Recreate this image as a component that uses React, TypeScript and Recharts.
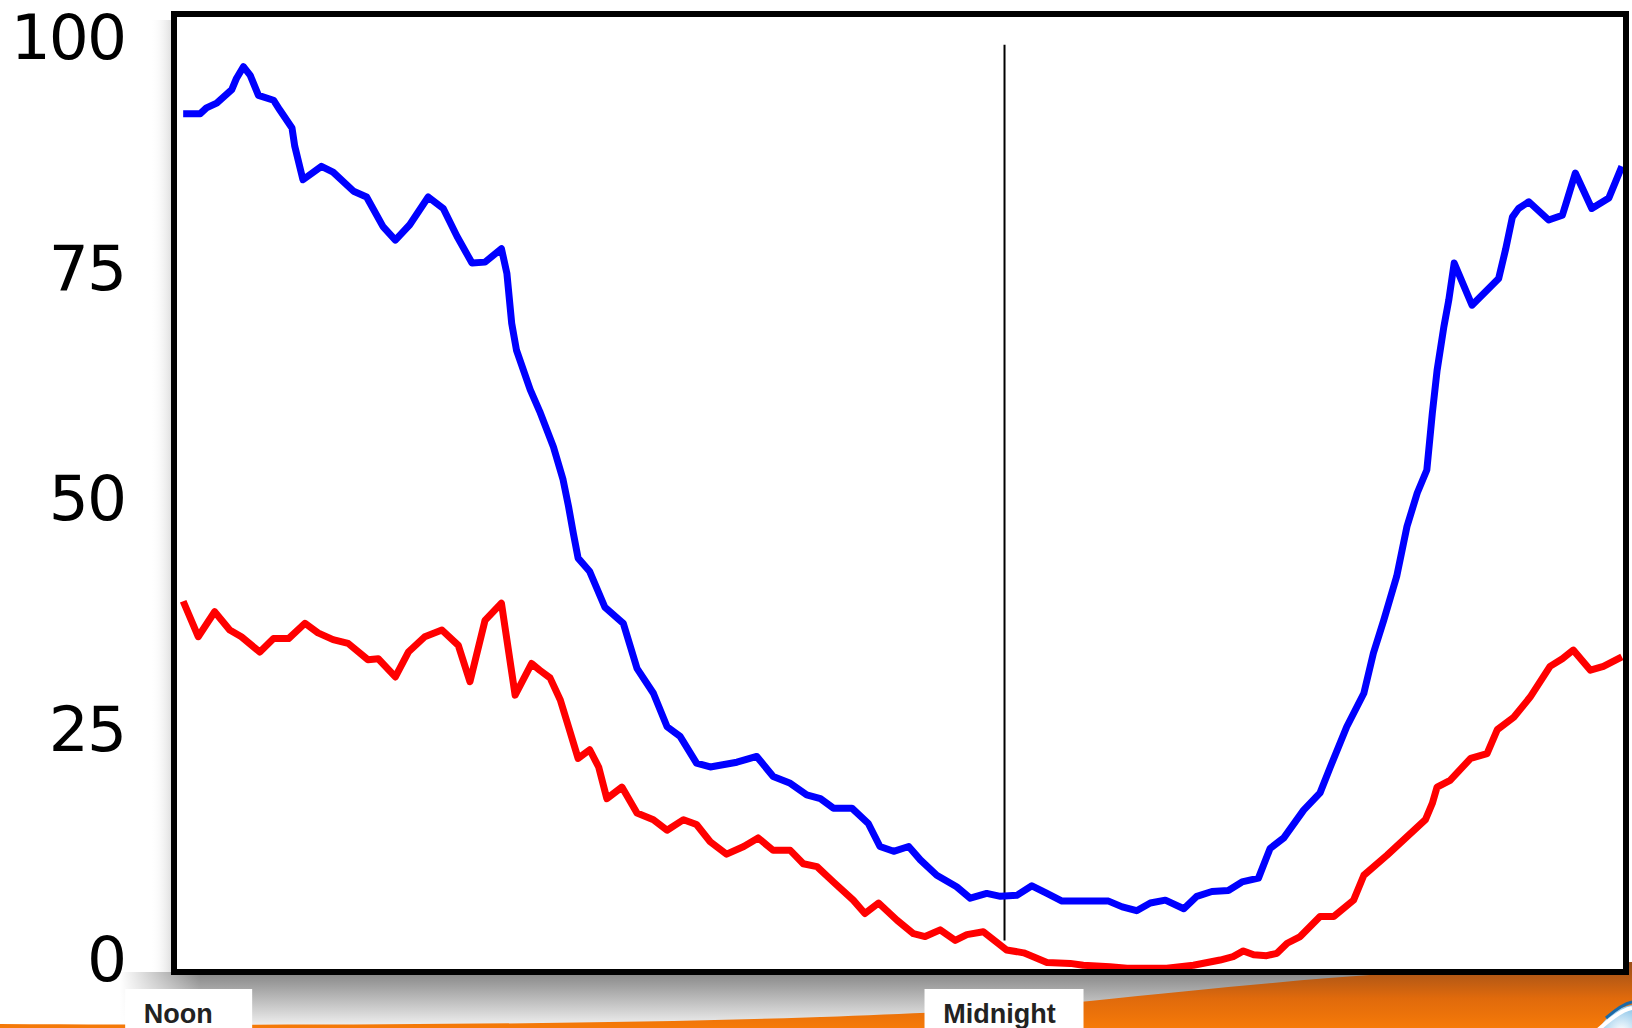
import { LineChart, Line, XAxis, YAxis, CartesianGrid, ReferenceLine } from 'recharts'

// hours after noon
const blueHours = [
  0, 0.25, 0.34, 0.49, 0.71, 0.78, 0.88, 0.98, 1.10, 1.32,
  1.41, 1.59, 1.63, 1.75, 2.02, 2.19, 2.49, 2.68, 2.92, 3.10,
  3.31, 3.58, 3.80, 4.00, 4.22, 4.41, 4.65, 4.73, 4.80, 4.87,
  5.07, 5.21, 5.41, 5.55, 5.63, 5.70, 5.77, 5.94, 6.16, 6.43,
  6.63, 6.87, 7.07, 7.26, 7.50, 7.70, 8.09, 8.38, 8.62, 8.87,
  9.11, 9.31, 9.50, 9.77, 10.01, 10.18, 10.38, 10.60, 10.77, 11.01,
  11.30, 11.50, 11.74, 11.94, 12.18, 12.40, 12.62, 12.84, 13.52, 13.72,
  13.93, 14.13, 14.35, 14.62, 14.81, 15.03, 15.27, 15.47, 15.71, 15.88,
  16.08, 16.37, 16.61, 16.76, 17.00, 17.25, 17.39, 17.54, 17.73, 17.88,
  18.03, 18.17, 18.25, 18.32, 18.42, 18.49, 18.57, 18.83, 19.22, 19.32,
  19.42, 19.51, 19.66, 19.95, 20.15, 20.22, 20.34, 20.58, 20.83, 21.02,
]
const blueValues = [
  89.6, 89.6, 90.2, 90.7, 92.1, 93.3, 94.5, 93.6, 91.5, 91.0,
  90.0, 88.1, 86.2, 82.7, 84.1, 83.5, 81.5, 80.9, 77.8, 76.4,
  78.0, 80.9, 79.7, 76.8, 74.0, 74.1, 75.5, 72.9, 67.7, 64.9,
  60.8, 58.5, 54.8, 51.4, 48.6, 45.8, 43.2, 41.8, 38.1, 36.4,
  31.7, 29.1, 25.6, 24.6, 21.8, 21.4, 21.9, 22.5, 20.4, 19.7,
  18.5, 18.1, 17.1, 17.1, 15.5, 13.1, 12.6, 13.1, 11.7, 10.1,
  8.9, 7.7, 8.2, 7.9, 8.0, 9.0, 8.2, 7.4, 7.4, 6.8,
  6.4, 7.2, 7.5, 6.6, 7.9, 8.4, 8.5, 9.4, 9.8, 12.9,
  14.0, 16.9, 18.7, 21.4, 25.6, 29.1, 33.3, 36.7, 41.3, 46.5,
  50.0, 52.4, 58.3, 62.8, 67.4, 70.1, 74.0, 69.6, 72.4, 75.4,
  78.8, 79.7, 80.4, 78.5, 79.0, 80.6, 83.4, 79.7, 80.8, 84.1,
]

const redHours = [
  0, 0.22, 0.46, 0.68, 0.85, 1.12, 1.32, 1.54, 1.78, 1.97,
  2.19, 2.41, 2.70, 2.85, 3.10, 3.29, 3.53, 3.78, 4.02, 4.19,
  4.41, 4.65, 4.85, 5.09, 5.21, 5.36, 5.51, 5.63, 5.77, 5.94,
  6.07, 6.19, 6.41, 6.63, 6.87, 7.07, 7.31, 7.50, 7.70, 7.94,
  8.19, 8.40, 8.62, 8.87, 9.06, 9.26, 9.50, 9.79, 9.96, 10.16,
  10.43, 10.67, 10.84, 11.06, 11.28, 11.45, 11.69, 12.03, 12.28, 12.42,
  12.62, 12.96, 13.15, 13.54, 13.79, 14.37, 14.76, 15.15, 15.34, 15.49,
  15.64, 15.83, 15.98, 16.13, 16.32, 16.61, 16.81, 17.10, 17.25, 17.59,
  18.15, 18.25, 18.32, 18.51, 18.81, 19.05, 19.20, 19.44, 19.68, 19.97,
  20.15, 20.31, 20.56, 20.75, 21.02,
]
const redValues = [
  38.7, 35.0, 37.6, 35.7, 35.0, 33.4, 34.8, 34.8, 36.4, 35.4,
  34.7, 34.3, 32.6, 32.7, 30.8, 33.4, 35.0, 35.7, 34.1, 30.3,
  36.7, 38.5, 28.9, 32.2, 31.5, 30.7, 28.4, 25.6, 22.3, 23.2,
  21.4, 18.1, 19.3, 16.6, 15.9, 14.8, 15.9, 15.4, 13.6, 12.3,
  13.1, 14.0, 12.7, 12.7, 11.3, 11.0, 9.4, 7.5, 6.1, 7.2,
  5.4, 4.0, 3.7, 4.4, 3.3, 3.9, 4.2, 2.3, 2.0, 1.6,
  1.0, 0.9, 0.7, 0.55, 0.4, 0.4, 0.7, 1.25, 1.6, 2.2,
  1.8, 1.7, 1.95, 3.0, 3.7, 5.8, 5.8, 7.5, 10.1, 12.2,
  15.9, 17.6, 19.3, 20.0, 22.3, 22.8, 25.3, 26.6, 28.7, 31.9,
  32.7, 33.6, 31.5, 31.9, 32.9,
]

const yTicks = [0, 25, 50, 75, 100]
const xTicks = [0, 12]
const xLabels: Record<number, string> = { 0: 'Noon', 12: 'Midnight' }

const blueData = blueHours.map((h, i) => ({ h, v: blueValues[i] }))
const redData = redHours.map((h, i) => ({ h, v: redValues[i] }))

const X_DOMAIN: [number, number] = [-0.134, 21.08]
const frame = { stroke: '#000', strokeWidth: 6, strokeLinecap: 'square' as const }

function YTick({ x, y, payload }: any) {
  const v = payload.value as number
  return (
    <text x={x - 49} y={y + 9 + v * 0.36} textAnchor="end" fontSize={63} letterSpacing={-2}
      fontFamily="DejaVu Sans" fill="#000">{v}</text>
  )
}

function XTick({ x, y, payload }: any) {
  const label = xLabels[payload.value as number]
  const w = label === 'Noon' ? 127 : 159
  const left = label === 'Noon' ? -58 : -80
  return (
    <g>
      <rect x={x + left} y={y + 17} width={w} height={60} fill="#fff" />
      <text x={x - 5} y={y + 51} textAnchor="middle" fontSize={27} fontWeight="bold"
        fontFamily="Liberation Sans, Arial, sans-serif" fill="#222">{label}</text>
    </g>
  )
}

function Backdrop() {
  return (
    <svg width={1632} height={1028} style={{ position: 'absolute', left: 0, top: 0 }}>
      <defs>
        <linearGradient id="shade" x1="0" y1="0" x2="0" y2="1">
          <stop offset="0" stopColor="#858585" />
          <stop offset="1" stopColor="#f4f4f4" />
        </linearGradient>
        <linearGradient id="fadeLeft" x1="0" y1="0" x2="1" y2="0">
          <stop offset="0" stopColor="#fff" stopOpacity="1" />
          <stop offset="1" stopColor="#fff" stopOpacity="0" />
        </linearGradient>
        <linearGradient id="sideShade" x1="0" y1="0" x2="1" y2="0">
          <stop offset="0" stopColor="#fff" stopOpacity="0" />
          <stop offset="1" stopColor="#d8d8d8" stopOpacity="1" />
        </linearGradient>
        <linearGradient id="orange" x1="0" y1="0" x2="0" y2="1">
          <stop offset="0" stopColor="#9a4e1a" />
          <stop offset="0.55" stopColor="#e06a0c" />
          <stop offset="1" stopColor="#f67a08" />
        </linearGradient>
        <radialGradient id="globe" cx="0.3" cy="0.3" r="0.8">
          <stop offset="0" stopColor="#ffffff" />
          <stop offset="0.45" stopColor="#6ab4e2" />
          <stop offset="1" stopColor="#1a6aa8" />
        </radialGradient>
      </defs>
      <rect x={150} y={20} width={24} height={955} fill="url(#sideShade)" />
      <rect x={120} y={972} width={1512} height={56} fill="url(#shade)" />
      <rect x={120} y={972} width={80} height={56} fill="url(#fadeLeft)" />
      <path d="M0,1024 C500,1027 900,1021 1090,1001 S1420,968 1632,962 L1632,1028 L0,1028 Z"
        fill="url(#orange)" />
      <circle cx={1640} cy={1050} r={46} fill="url(#globe)" />
      <path d="M1598,1030 Q1620,1010 1632,1008" stroke="#fff" strokeWidth={4} fill="none" />
      <path d="M1606,1018 Q1622,1004 1632,1002" stroke="#1a6aa8" strokeWidth={3} fill="none" />
    </svg>
  )
}

export default function App() {
  return (
    <div style={{ position: 'absolute', left: 0, top: 0, width: 1632, height: 1028, overflow: 'hidden', background: '#fff' }}>
      <Backdrop />
      <div style={{ position: 'absolute', left: 0, top: 0 }}>
        <LineChart width={1632} height={1028} data={blueData}
          margin={{ top: 13, right: 5, bottom: 0, left: 0 }}>
          <rect x={174} y={14} width={1452} height={958} fill="#fff" />
          <CartesianGrid vertical={false} stroke="#222" strokeWidth={2} fill="#fff" />
          <ReferenceLine segment={[{ x: 12, y: 3.3 }, { x: 12, y: 96.8 }]} stroke="#000" strokeWidth={2} />
          <Line data={redData} dataKey="v" type="linear" stroke="#ff0000" strokeWidth={7}
            strokeLinejoin="round" dot={false} isAnimationActive={false} />
          <Line data={blueData} dataKey="v" type="linear" stroke="#0000ff" strokeWidth={7}
            strokeLinejoin="round" dot={false} isAnimationActive={false} />
          <XAxis dataKey="h" type="number" domain={X_DOMAIN} ticks={xTicks} height={56}
            tickSize={0} tickMargin={0} tickLine={false} axisLine={frame} tick={<XTick />}
            allowDataOverflow interval={0} />
          <XAxis xAxisId="top" orientation="top" dataKey="h" type="number" domain={X_DOMAIN}
            height={1} tick={false} tickLine={false} axisLine={frame} allowDataOverflow />
          <YAxis domain={[0, 100]} ticks={yTicks} width={174} tickSize={0} tickMargin={0}
            tickLine={false} axisLine={frame} tick={<YTick />} interval={0} />
          <YAxis yAxisId="right" orientation="right" domain={[0, 100]} width={1}
            tick={false} tickLine={false} axisLine={frame} />
        </LineChart>
      </div>
    </div>
  )
}
